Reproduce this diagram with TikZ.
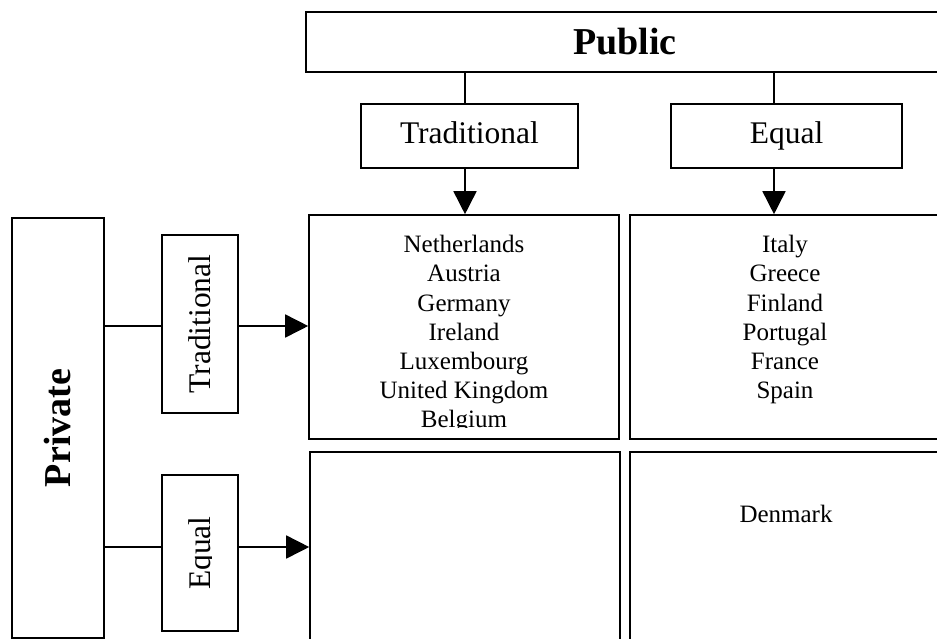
\documentclass[tikz,border=0pt]{standalone}
\usepackage{fontspec}
\setmainfont{Liberation Serif}
\usepackage{graphicx}
\usetikzlibrary{arrows.meta}

\begin{document}
\begin{tikzpicture}[x=0.5pt, y=-0.5pt,
    box/.style={draw, line width=0.8pt, inner sep=0pt, rectangle},
    head/.style={font=\fontsize{15.75}{19}\selectfont},
    title/.style={font=\fontsize{19}{23}\selectfont\bfseries},
    list/.style={font=\fontsize{12.5}{14.6}\selectfont, align=center, inner sep=0pt},
    link/.style={line width=0.8pt},
    arr/.style={line width=0.8pt, -{Triangle[length=11.5pt, width=11.5pt]}}]
    \useasboundingbox (0, 0) rectangle (937, 638);
    \clip (0, 0) rectangle (937, 638);

    % public side
    \node [box, title, minimum width=319pt, minimum height=30pt] (public) at (625, 42) {Public};
    \node [box, head, text height=10.8pt, text depth=3.4pt, minimum width=108.5pt, minimum height=32pt] (trad) at (469.5, 136) {Traditional};
    \node [box, head, text height=10.8pt, text depth=3.4pt, minimum width=115.5pt, minimum height=32pt] (equal) at (786.5, 136) {Equal};

    % private side
    \node [box, title, minimum width=46pt, minimum height=210pt] (private) at (58, 428) {\rotatebox{90}{Private}};
    \node [box, head, minimum width=38pt, minimum height=89pt] (ptrad) at (200, 324) {\rotatebox{90}{Traditional}};
    \node [box, minimum width=38pt, minimum height=78pt] (pequal) at (200, 553) {};
    \begin{scope}
        \clip (162, 475) rectangle (211.5, 631);
        \node [head, inner sep=0pt] (pequalText) at (pequal) {\rotatebox{90}{\raisebox{0pt}[\height][0pt]{Equal}}};
    \end{scope}

    % the four cells
    \node [box, minimum width=155pt, minimum height=112pt] (cellTT) at (464, 327) {};
    \node [box, minimum width=156pt, minimum height=112pt] (cellTE) at (786, 327) {};
    \node [box, minimum width=155pt, minimum height=124pt] (cellET) at (465, 576) {};
    \node [box, minimum width=156pt, minimum height=124pt] (cellEE) at (786, 576) {};

    \begin{scope}
        \clip (309, 215) rectangle (619, 427);
        \node [list, anchor=north] (listTT) at (464, 235) {Netherlands\\Austria\\Germany\\Ireland\\Luxembourg\\United Kingdom\\Belgium};
    \end{scope}
    \node [list, anchor=north] (listTE) at (785, 235) {Italy\\Greece\\Finland\\Portugal\\France\\Spain};
    \node [list] (listEE) at (786, 514) {Denmark};

    \coordinate (tline) at (465, 0);
    \coordinate (eline) at (774, 0);
    \coordinate (trow) at (0, 326);
    \coordinate (erow) at (0, 547);

    \draw [link] (public.south -| tline) -- (trad.north -| tline);
    \draw [arr] (trad.south -| tline) -- (cellTT.north -| tline);
    \draw [link] (public.south -| eline) -- (equal.north -| eline);
    \draw [arr] (equal.south -| eline) -- (cellTE.north -| eline);

    \draw [link] (private.east |- trow) -- (ptrad.west |- trow);
    \draw [arr] (ptrad.east |- trow) -- (cellTT.west |- trow);
    \draw [link] (private.east |- erow) -- (pequal.west |- erow);
    \draw [arr] (pequal.east |- erow) -- (cellET.west |- erow);
\end{tikzpicture}
\end{document}
